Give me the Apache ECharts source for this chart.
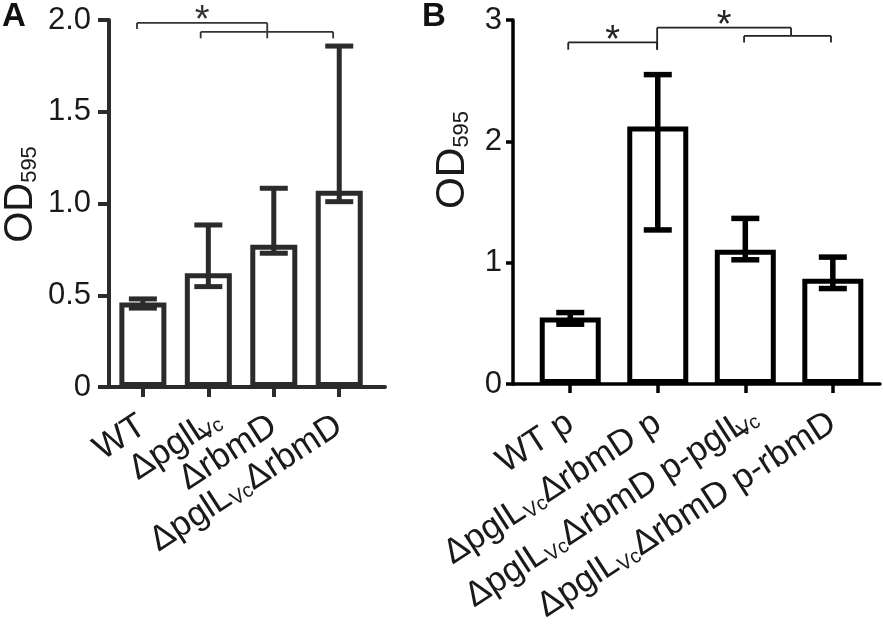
<!DOCTYPE html>
<html lang="en">
<head>
<meta charset="UTF-8">
<title>OD595</title>
<script src="https://cdn.jsdelivr.net/npm/echarts@6.0.0/dist/echarts.min.js"></script>
<style>
  html, body { margin: 0; padding: 0; background: #fff; }
  #chart { width: 883px; height: 626px; }
</style>
</head>
<body>
<div id="chart"></div>
<script>
// panel A
var labelsA = ['WT', 'ΔpglL{e|Vc}', 'ΔrbmD', 'ΔpglL{s|Vc}ΔrbmD'];
var meanA = [0.46, 0.62, 0.775, 1.07];
var lowA = [0.43, 0.547, 0.729, 1.01];
var highA = [0.48, 0.883, 1.083, 1.858];
var yTicksA = ['0', '0.5', '1.0', '1.5', '2.0'];
// [from, to, level, left end, right end, star]
var bracketsA = [
    [-0.09, 1.90, 1.984, 1.951, 1.90, 1],
    [0.883, 2.907, 1.935, 1.90, 1.90, 0]
];

// panel B
var labelsB = ['WT p', 'ΔpglL{s|Vc}ΔrbmD p', 'ΔpglL{s|Vc}ΔrbmD p-pglL{e|Vc}', 'ΔpglL{s|Vc}ΔrbmD p-rbmD'];
var meanB = [0.548, 2.123, 1.106, 0.867];
var lowB = [0.493, 1.27, 1.024, 0.787];
var highB = [0.589, 2.55, 1.365, 1.046];
var yTicksB = ['0', '1', '2', '3'];
var bracketsB = [
    [-0.023, 0.993, 2.815, 2.755, 2.755, 1],
    [0.993, 2.523, 2.937, 2.755, 2.87, 1],
    [1.986, 2.979, 2.869, 2.815, 2.815, 0]
];

var FONT = '"Liberation Sans", Arial, sans-serif';
var chart = echarts.init(document.getElementById('chart'));

// subscripts; a trailing one hangs past the tick like in the original
var labelRich = {
    s: { fontSize: 20, fontFamily: FONT, color: '#1a1a1a', verticalAlign: 'bottom' },
    e: { fontSize: 20, fontFamily: FONT, color: '#1a1a1a', verticalAlign: 'bottom', align: 'left', width: 1 }
};

function errorBars(low, high, cap, width, color) {
    return function (params, api) {
        var i = params.dataIndex;
        var lo = api.coord([i, low[i]]);
        var hi = api.coord([i, high[i]]);
        var style = { stroke: color, lineWidth: width, fill: null };
        return {
            type: 'group',
            children: [
                { type: 'line', shape: { x1: hi[0], y1: hi[1], x2: lo[0], y2: lo[1] }, style: style },
                { type: 'line', shape: { x1: hi[0] - cap, y1: hi[1], x2: hi[0] + cap, y2: hi[1] }, style: style },
                { type: 'line', shape: { x1: lo[0] - cap, y1: lo[1], x2: lo[0] + cap, y2: lo[1] }, style: style }
            ]
        };
    };
}

function brackets(rows, color) {
    return function (params, api) {
        var r = rows[params.dataIndex];
        var a = api.coord([r[0], r[3]]);
        var b = api.coord([r[0], r[2]]);
        var c = api.coord([r[1], r[2]]);
        var d = api.coord([r[1], r[4]]);
        var style = { stroke: color, lineWidth: 1.8, fill: null };
        var children = [
            { type: 'line', shape: { x1: a[0], y1: a[1], x2: b[0], y2: b[1] }, style: style },
            { type: 'line', shape: { x1: b[0], y1: b[1], x2: c[0], y2: c[1] }, style: style },
            { type: 'line', shape: { x1: c[0], y1: c[1], x2: d[0], y2: d[1] }, style: style }
        ];
        if (r[5]) {
            children.push({
                type: 'text',
                style: {
                    text: '*', x: (b[0] + c[0]) / 2, y: b[1] - 1,
                    font: '38px ' + FONT, fill: color,
                    textAlign: 'center', textVerticalAlign: 'middle'
                }
            });
        }
        return { type: 'group', children: children };
    };
}

function xAxisOf(gridIndex, min, max, labels, color, w, tickLen) {
    return {
        type: 'value', gridIndex: gridIndex, min: min, max: max,
        splitLine: { show: false },
        axisLine: { show: true, onZero: false, lineStyle: { color: color, width: w } },
        axisTick: { show: true, customValues: [0, 1, 2, 3], length: tickLen, lineStyle: { color: color, width: w } },
        axisLabel: {
            customValues: [0, 1, 2, 3], rotate: 33, margin: 36,
            fontSize: 35, fontFamily: FONT, color: '#1a1a1a',
            formatter: function (v) { return labels[Math.round(v)]; },
            rich: labelRich
        }
    };
}

function yAxisOf(gridIndex, max, interval, ticks, color, w, tickLen, margin, nameGap, namePad, nameSize) {
    return {
        type: 'value', gridIndex: gridIndex, min: 0, max: max, interval: interval,
        splitLine: { show: false },
        axisLine: { show: true, onZero: false, lineStyle: { color: color, width: w } },
        axisTick: { show: true, length: tickLen, lineStyle: { color: color, width: w } },
        axisLabel: {
            fontSize: 31, fontFamily: FONT, color: '#1a1a1a', margin: margin,
            formatter: function (v) { return ticks[Math.round(v / interval)]; }
        },
        name: '{a|OD}{b|595}', nameLocation: 'middle', nameGap: nameGap, nameRotate: 90,
        nameTextStyle: {
            padding: [0, 0, 0, namePad],
            rich: {
                a: { fontSize: nameSize, fontFamily: FONT, color: '#1a1a1a' },
                b: { fontSize: 22, fontFamily: FONT, color: '#1a1a1a', verticalAlign: 'bottom' }
            }
        }
    };
}

var option = {
    animation: false,
    title: [
        { text: 'A', left: 2, top: 0, padding: 0, textStyle: { fontSize: 33, fontWeight: 'bold', fontFamily: FONT, color: '#111' } },
        { text: 'B', left: 422, top: 0, padding: 0, textStyle: { fontSize: 33, fontWeight: 'bold', fontFamily: FONT, color: '#111' } }
    ],
    grid: [
        { left: 108, top: 20, width: 277, height: 367 },
        { left: 513, top: 20, width: 367, height: 367 }
    ],
    xAxis: [
        xAxisOf(0, -0.5175, 3.699, labelsA, '#2b2b2b', 4, 10),
        xAxisOf(1, -0.654, 3.539, labelsB, '#000', 3.5, 9)
    ],
    yAxis: [
        yAxisOf(0, 2, 0.5, yTicksA, '#2b2b2b', 4, 11, 18, 68, 18, 40),
        yAxisOf(1, 3, 1, yTicksB, '#000', 3.5, 7, 11, 40, 84, 41)
    ],
    series: [
        {
            type: 'bar', xAxisIndex: 0, yAxisIndex: 0, barWidth: 47, silent: true,
            itemStyle: { color: '#fff', borderColor: '#2b2b2b', borderWidth: 5 },
            data: meanA.map(function (v, i) { return [i, v]; })
        },
        {
            type: 'custom', xAxisIndex: 0, yAxisIndex: 0, silent: true, z: 3,
            renderItem: errorBars(lowA, highA, 14, 5, '#2b2b2b'),
            data: meanA
        },
        {
            type: 'custom', xAxisIndex: 0, yAxisIndex: 0, silent: true, clip: false,
            renderItem: brackets(bracketsA, '#333'),
            data: bracketsA.map(function (r) { return r[2]; })
        },
        {
            type: 'bar', xAxisIndex: 1, yAxisIndex: 1, barWidth: 61, silent: true,
            itemStyle: { color: '#fff', borderColor: '#000', borderWidth: 5 },
            data: meanB.map(function (v, i) { return [i, v]; })
        },
        {
            type: 'custom', xAxisIndex: 1, yAxisIndex: 1, silent: true, z: 3,
            renderItem: errorBars(lowB, highB, 14, 5.5, '#000'),
            data: meanB
        },
        {
            type: 'custom', xAxisIndex: 1, yAxisIndex: 1, silent: true, clip: false,
            renderItem: brackets(bracketsB, '#222'),
            data: bracketsB.map(function (r) { return r[2]; })
        }
    ]
};
chart.setOption(option);
</script>
</body>
</html>
